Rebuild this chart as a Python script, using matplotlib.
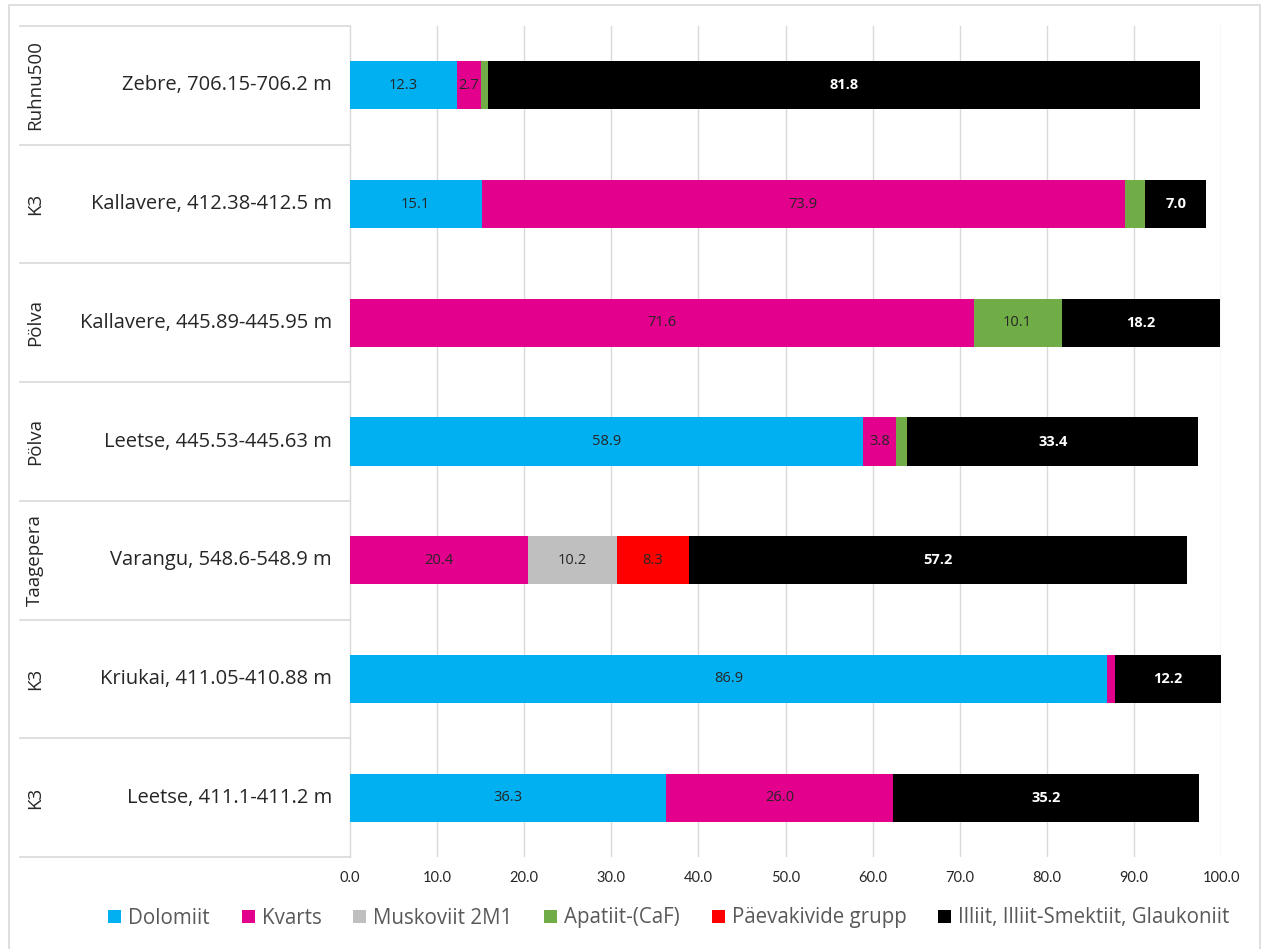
import matplotlib
matplotlib.use("Agg")
import matplotlib.pyplot as plt
from matplotlib.patches import Rectangle
from matplotlib.lines import Line2D
import numpy as np

# Samples, top to bottom
samples = [
    "Zebre, 706.15-706.2 m",
    "Kallavere, 412.38-412.5 m",
    "Kallavere, 445.89-445.95 m",
    "Leetse, 445.53-445.63 m",
    "Varangu, 548.6-548.9 m",
    "Kriukai, 411.05-410.88 m",
    "Leetse, 411.1-411.2 m",
]
boreholes = ["Ruhnu500", "K3", "Pölva", "Pölva", "Taagepera", "K3", "K3"]

minerals = ["Dolomiit", "Kvarts", "Muskoviit 2M1", "Apatiit-(CaF)",
            "Päevakivide grupp", "Illiit, Illiit-Smektiit, Glaukoniit"]
colors = ["#00B0F0", "#E3008C", "#BFBFBF", "#70AD47", "#FF0000", "#000000"]

dolomiit = [12.3, 15.1, 0.0, 58.9, 0.0, 86.9, 36.3]
kvarts = [2.7, 73.9, 71.6, 3.8, 20.4, 0.9, 26.0]
muskoviit = [0.0, 0.0, 0.0, 0.0, 10.2, 0.0, 0.0]
apatiit = [0.8, 2.3, 10.1, 1.3, 0.0, 0.0, 0.0]
paevakivid = [0.0, 0.0, 0.0, 0.0, 8.3, 0.0, 0.0]
illiit = [81.8, 7.0, 18.2, 33.4, 57.2, 12.2, 35.2]

series = [dolomiit, kvarts, muskoviit, apatiit, paevakivid, illiit]
xticks = [0, 10, 20, 30, 40, 50, 60, 70, 80, 90, 100]

W, H = 1262, 949
fig = plt.figure(figsize=(W / 100, H / 100), dpi=100)
fig.patch.set_facecolor("white")

# chart border
fig.add_artist(Rectangle((9 / W, -0.01), (1260 - 9) / W, 1 - 5 / H + 0.01,
                         transform=fig.transFigure, fill=False,
                         edgecolor="#D9D9D9", linewidth=1.2))

ax_l, ax_r, ax_t, ax_b = 350, 1221, 26, 857
ax = fig.add_axes([ax_l / W, 1 - ax_b / H, (ax_r - ax_l) / W, (ax_b - ax_t) / H])

n = len(samples)
ypos = np.arange(n)[::-1]
bar_h = 0.405
grid_c = "#D9D9D9"

left = np.zeros(n)
for vals, col in zip(series, colors):
    vals = np.array(vals)
    ax.barh(ypos, vals, left=left, height=bar_h, color=col, edgecolor="none", zorder=3)
    for y, v, l in zip(ypos, vals, left):
        if v >= 2.5:
            tc = "white" if col == "#000000" else "#262626"
            fw = "bold" if col == "#000000" else "normal"
            ax.text(l + v / 2, y, f"{v:.1f}", ha="center", va="center",
                    fontsize=10.5, color=tc, fontweight=fw, family="Open Sans", zorder=4)
    left = left + vals

ax.set_xlim(0, 100)
ax.set_ylim(-0.5, n - 0.5)
ax.set_xticks(xticks)
ax.set_xticklabels([f"{t:.1f}" for t in xticks], family="Lato", fontsize=10.5, color="#262626")
ax.tick_params(axis="x", length=0, pad=10)
ax.set_yticks([])
for t in xticks[1:]:
    ax.axvline(t, color=grid_c, linewidth=1, zorder=1)
for s in ["top", "right", "bottom"]:
    ax.spines[s].set_visible(False)
ax.spines["left"].set_color(grid_c)
ax.spines["left"].set_linewidth(1)

# category table on the left
x_frac = lambda px: (px - ax_l) / (ax_r - ax_l)
for k in range(n + 1):
    yb = n - 0.5 - k
    ax.add_line(Line2D([x_frac(20), 0], [yb, yb], color=grid_c, linewidth=1.2,
                       clip_on=False, transform=ax.get_yaxis_transform()))
for y, s, b in zip(ypos, samples, boreholes):
    ax.text(x_frac(332), y, s, ha="right", va="center", fontsize=14.5,
            family="Open Sans", color="#262626", transform=ax.get_yaxis_transform())
    ax.text(x_frac(35), y, b, ha="center", va="center", rotation=90, fontsize=13.5,
            family="Open Sans", color="#262626", transform=ax.get_yaxis_transform())

handles = [Rectangle((0, 0), 1, 1, facecolor=c, edgecolor="none") for c in colors]
fig.legend(handles, minerals, loc="center", bbox_to_anchor=(669 / W, 1 - 918 / H),
           ncol=6, frameon=False, handlelength=0.62, handleheight=0.62,
           handletextpad=0.35, columnspacing=1.55,
           prop={"family": "Open Sans", "size": 14.8}, labelcolor="#595959")

fig.savefig("out.png", dpi=100, facecolor="white")
